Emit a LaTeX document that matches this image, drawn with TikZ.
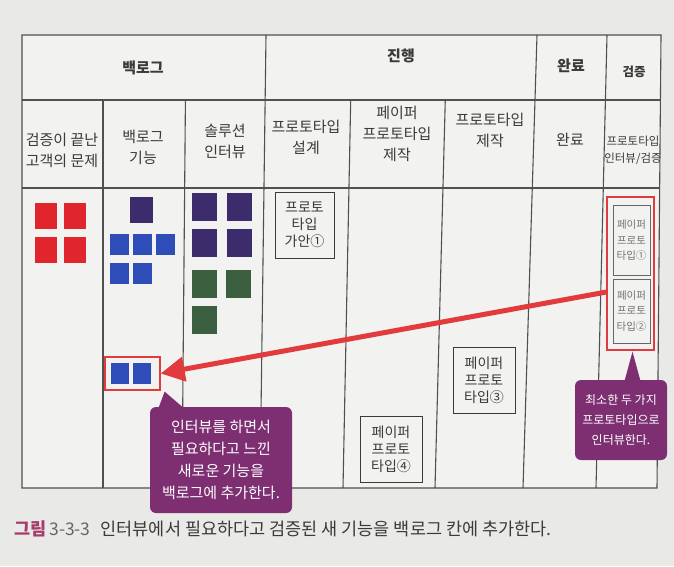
\documentclass[tikz,border=0pt]{standalone}
\usepackage{fontspec}
\setmainfont{Noto Sans CJK KR}
\usetikzlibrary{arrows.meta,calc}
\definecolor{paper}{HTML}{E9E9E7}
\definecolor{tablebg}{HTML}{F2F2F0}
\definecolor{gridc}{HTML}{505050}
\definecolor{txt}{HTML}{3A3A3A}
\definecolor{sqred}{HTML}{E0262C}
\definecolor{sqpurp}{HTML}{3D2C6C}
\definecolor{sqblue}{HTML}{2F4DB8}
\definecolor{sqgreen}{HTML}{3B5F3E}
\definecolor{arrred}{HTML}{E23B3E}
\definecolor{callp}{HTML}{7D2F72}
\definecolor{capred}{HTML}{A63A6A}
\begin{document}
\begin{tikzpicture}[x=1pt,y=-1pt,
  grid/.style={draw=gridc,line width=1.1pt},
  headA/.style={text=txt,font=\bfseries\fontsize{15}{18}\selectfont,align=center},
  headB/.style={text=txt,font=\fontsize{15}{21}\selectfont,align=center},
  sq/.style={inner sep=0pt,draw=none},
  redsq/.style={sq,fill=sqred,minimum width=22pt,minimum height=26pt},
  purpsmall/.style={sq,fill=sqpurp,minimum width=23pt,minimum height=26pt},
  bluesq/.style={sq,fill=sqblue,minimum width=19pt,minimum height=21pt},
  purpsq/.style={sq,fill=sqpurp,minimum width=25pt,minimum height=28pt},
  greensq/.style={sq,fill=sqgreen,minimum width=25pt,minimum height=28pt},
  protobox/.style={draw=txt,line width=1pt,fill=tablebg,inner sep=0pt,align=center,text=txt,
     minimum width=60pt,minimum height=66pt,font=\fontsize{14}{17}\selectfont},
  smallproto/.style={draw=gray!80!black,line width=0.9pt,inner sep=0pt,align=center,text=gray!90!black,
     minimum width=37pt,minimum height=66pt,font=\fontsize{10.5}{15.5}\selectfont},
  redframe/.style={draw=arrred,line width=1.3pt,inner sep=0pt},
  callout/.style={fill=callp,rounded corners=6pt,inner sep=0pt,align=center,text=white},
]
% background
\fill[paper] (0,0) rectangle (674,566);
\useasboundingbox (0,0) rectangle (674,566);
% table body
\fill[tablebg] (22,35) -- (661,35) -- (657,488) -- (22,488) -- cycle;
% vertical line endpoints
\coordinate (L0t) at (22,35);  \coordinate (L0b) at (22,488);
\coordinate (L1t) at (103,35); \coordinate (L1b) at (103,488);
\coordinate (L2t) at (186,35); \coordinate (L2b) at (182,488);
\coordinate (L3t) at (266,35); \coordinate (L3b) at (260,488);
\coordinate (L4t) at (352,35); \coordinate (L4b) at (343,488);
\coordinate (L5t) at (447,35); \coordinate (L5b) at (435,488);
\coordinate (L6t) at (537,35); \coordinate (L6b) at (523,488);
\coordinate (L7t) at (607,35); \coordinate (L7b) at (596,488);
\coordinate (L8t) at (661,35); \coordinate (L8b) at (657,488);
% grid
\draw[grid] (L0t) -- (L8t) -- (L8b) -- (L0b) -- cycle;
\draw[grid] (L3t) -- (L3b);
\draw[grid] (L6t) -- (L6b);
\draw[grid] (L7t) -- (L7b);
\foreach \i in {1,2,4,5}{
  \draw[grid] ($(L\i t)!0.1435!(L\i b)$) -- (L\i b);
}
\draw[grid] (22,100) -- (660.4,100);
\draw[grid] (22,188) -- (659.6,188);
% header row 1
\node[headA] (hBacklog) at (143,68) {백로그};
\node[headA] (hProg) at (401,56) {진행};
\node[headA] (hDone) at (571,66) {완료};
\node[headA,font=\bfseries\fontsize{12.5}{16}\selectfont] (hVer) at (634,72) {검증};
% header row 2
\node[headB] (c0) at (62,150) {검증이 끝난\\고객의 문제};
\node[headB] (c1) at (143,147) {백로그\\기능};
\node[headB] (c2) at (225,141) {솔루션\\인터뷰};
\node[headB] (c3) at (306,137) {프로토타입\\설계};
\node[headB] (c4) at (397,134) {페이퍼\\프로토타입\\제작};
\node[headB] (c5) at (490,130) {프로토타입\\제작};
\node[headB] (c6) at (570,140) {완료};
\node[headB,font=\fontsize{11.5}{17}\selectfont] (c7) at (633,150) {프로토타입\\인터뷰/검증};
% col 0 red squares
\node[redsq] (r1) at (46,215.5) {};
\node[redsq] (r2) at (75,215.5) {};
\node[redsq] (r3) at (46,249.5) {};
\node[redsq] (r4) at (75,249.5) {};
% col 1
\node[purpsmall] (p1) at (141.5,210) {};
\node[bluesq] (b1) at (119.5,244.5) {};
\node[bluesq] (b2) at (142,244.5) {};
\node[bluesq] (b3) at (165.5,244.5) {};
\node[bluesq] (b4) at (119.5,273.5) {};
\node[bluesq] (b5) at (142,273.5) {};
% col 2
\node[purpsq] (s1) at (204.5,207) {};
\node[purpsq] (s2) at (239.5,207) {};
\node[purpsq] (s3) at (204.5,243) {};
\node[purpsq] (s4) at (239.5,243) {};
\node[greensq] (g1) at (204.5,284) {};
\node[greensq] (g2) at (238.5,284) {};
\node[greensq] (g3) at (204.5,320) {};
% new feature box
\node[redframe,minimum width=55pt,minimum height=33pt] (newfeat) at (132.5,373.5) {};
\node[bluesq,minimum width=18pt] (nb1) at (119.5,373.5) {};
\node[bluesq,minimum width=18pt] (nb2) at (142,373.5) {};
% prototype boxes
\node[protobox,minimum width=59pt] (pA) at (304.5,225) {프로토\\타입\\가안①};
\node[protobox,minimum width=62pt] (pC) at (484,380) {페이퍼\\프로토\\타입③};
\node[protobox,minimum width=62pt] (pD) at (391,449) {페이퍼\\프로토\\타입④};
% verification column
\node[redframe,minimum width=47pt,minimum height=153pt] (verify) at (630.5,273.5) {};
\node[smallproto,minimum height=70pt] (v1) at (631.5,240.5) {페이퍼\\프로토\\타입①};
\node[smallproto,minimum height=64pt] (v2) at (631.5,311) {페이퍼\\프로토\\타입②};
% arrow
\coordinate (arrstart) at ($(verify.north west)!0.62!(verify.south west)$);
\draw[arrred,line width=5pt,-{Triangle[length=24pt,width=24pt]}] (arrstart) -- (newfeat.east);
% left callout
\node[callout,minimum width=142pt,minimum height=106pt,font=\fontsize{15}{22}\selectfont] (callL) at (221,460)
  {인터뷰를 하면서\\필요하다고 느낀\\새로운 기능을\\백로그에 추가한다.};
\coordinate (tipL) at ($(newfeat.south east)+(4,1)$);
\fill[callp] (tipL) -- ($(callL.north west)+(8,3)$) -- ($(callL.north west)+(36,3)$) -- cycle;
% right callout
\node[callout,minimum width=92pt,minimum height=80pt,font=\fontsize{12}{20}\selectfont] (callR) at (621,420)
  {최소한 두 가지\\프로토타입으로\\인터뷰한다.};
\coordinate (tipR) at ($(verify.south)+(2,1)$);
\fill[callp] (tipR) -- ($(callR.north)+(3,3)$) -- ($(callR.north)+(20,3)$) -- cycle;
% caption
\node[anchor=west,text=txt,font=\fontsize{17.5}{20}\selectfont,inner sep=0pt] (caption) at (14,529)
  {{\bfseries\color{capred}그림}\hspace{3pt}{\color{gray!80!black}3-3-3}\hspace{10pt}인터뷰에서 필요하다고 검증된 새 기능을 백로그 칸에 추가한다.};
\end{tikzpicture}
\end{document}
